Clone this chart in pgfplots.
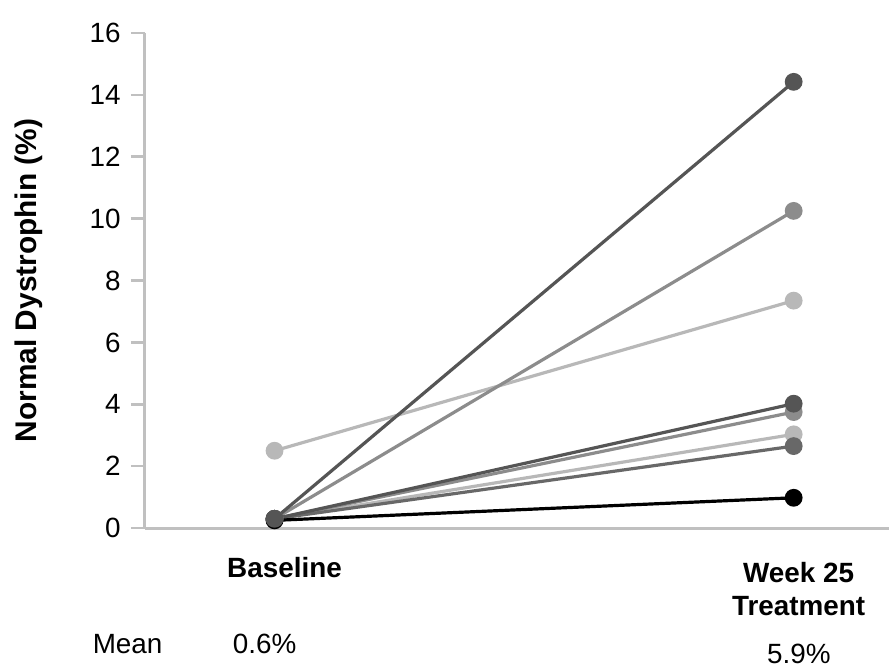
\documentclass[border=0pt]{standalone}
\usepackage{pgfplots}
\pgfplotsset{compat=1.18}
\usepackage{fontspec}
\setmainfont{Liberation Sans}

\definecolor{dk}{HTML}{555555}
\definecolor{md}{HTML}{8C8C8C}
\definecolor{lt}{HTML}{B8B8B8}
\definecolor{dm}{HTML}{686868}
\definecolor{axgray}{HTML}{C0C0C0}

\begin{document}
\begin{tikzpicture}[font=\fontsize{28}{33}\selectfont]
\begin{axis}[
    at={(0,0)}, anchor=south west,
    scale only axis,
    width=745bp, height=496bp,
    xmin=-0.25, xmax=1.1827,
    ymin=0, ymax=16,
    axis x line*=bottom,
    axis y line*=left,
    axis line style={draw=axgray, line width=3bp, -},
    ytick={0,2,...,16},
    tick align=outside,
    major tick length=14bp,
    ytick style={draw=axgray, line width=2.5bp},
    xtick style={draw=none},
    /pgf/number format/assume math mode=true,
    yticklabel style={anchor=east, inner sep=0pt, xshift=-10bp, font=\fontsize{28}{33}\selectfont},
    xtick={0,1},
    xticklabels={\hspace*{20bp}Baseline,{\rule{0pt}{25.5bp}\hspace*{10bp}Week 25\\\hspace*{10bp}Treatment}},
    xticklabel style={align=center, font=\bfseries\fontsize{28}{33}\selectfont, anchor=north, inner sep=0pt, yshift=-15bp},
    ylabel={\bfseries Normal Dystrophin (\%)},
    ylabel style={at={(axis description cs:-0.156,0.5)}, anchor=center, font=\fontsize{30}{34}\selectfont},
    clip=false,
    every axis plot/.append style={line width=3.2bp, mark=*, mark size=7.3bp},
]
% lightest first, darkest last
\addplot[color=lt, mark options={fill=lt, draw=lt}] coordinates {(0,2.5)(1,7.35)};
\addplot[color=lt, mark options={fill=lt, draw=lt}] coordinates {(0,0.3)(1,3.03)};
\addplot[color=md, mark options={fill=md, draw=md}] coordinates {(0,0.3)(1,10.25)};
\addplot[color=md, mark options={fill=md, draw=md}] coordinates {(0,0.3)(1,3.75)};
\addplot[color=dm, mark options={fill=dm, draw=dm}] coordinates {(0,0.3)(1,2.65)};
\addplot[color=dk, mark options={fill=dk, draw=dk}] coordinates {(0,0.3)(1,4.02)};
\addplot[color=black, mark options={fill=black, draw=black}] coordinates {(0,0.25)(1,0.98)};
\addplot[color=dk, mark options={fill=dk, draw=dk}] coordinates {(0,0.3)(1,14.42)};

\node[anchor=base] at (axis cs:-0.283,-4.06) {Mean};
\node[anchor=base] at (axis cs:-0.019,-4.06) {0.6\%};
\node[anchor=base] at (axis cs:1.01,-4.36) {5.9\%};
\end{axis}
\path[use as bounding box] (-145bp,-140bp) rectangle (745bp,529bp);
\end{tikzpicture}
\end{document}
